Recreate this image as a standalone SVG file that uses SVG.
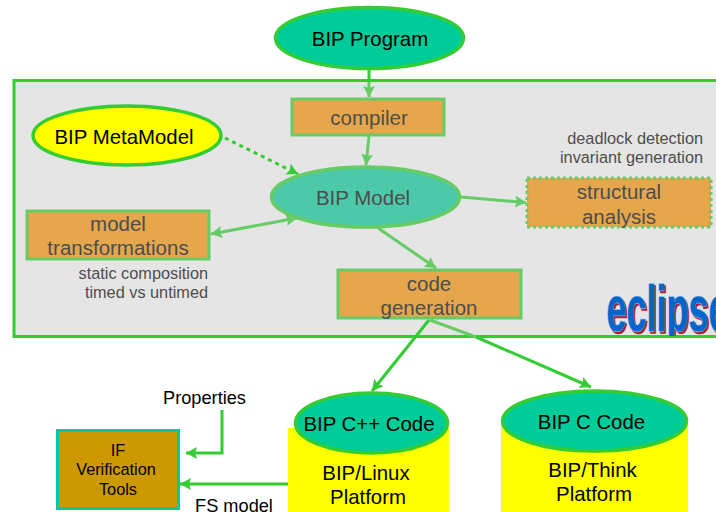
<svg xmlns="http://www.w3.org/2000/svg" width="716" height="512" viewBox="0 0 716 512">
<style>
text{font-family:"Liberation Sans",Arial,sans-serif;text-anchor:middle;fill:#000}
.l{font-size:20.400px}
.g{font-size:20.500px;fill:#4d4d4d}
.n{font-size:16.300px;fill:#4d4d4d;text-anchor:end}
.k{font-size:16.300px}
.b{font-size:18.200px}
.p{fill:#e6a64c;stroke:#66cc66;stroke-width:3}
.e1{fill:#00cc99;stroke:#33cc33;stroke-width:3.500}
.c1{fill:none;stroke:#33cc33;stroke-width:3}
.c2{fill:none;stroke:#66cc66;stroke-width:3}
.lg{font-weight:bold;font-size:64px;text-anchor:start}
</style>
<defs>
<marker id="a1" markerUnits="userSpaceOnUse" markerWidth="14" markerHeight="14" refX="11" refY="6" orient="auto"><path d="M0 0L11 6L0 12L2 6Z" fill="#33cc33"/></marker>
<marker id="a2" markerUnits="userSpaceOnUse" markerWidth="14" markerHeight="14" refX="11" refY="6" orient="auto"><path d="M0 0L11 6L0 12L2 6Z" fill="#66cc66"/></marker>
<marker id="a2s" markerUnits="userSpaceOnUse" markerWidth="14" markerHeight="14" refX="0" refY="6" orient="auto"><path d="M11 0L0 6L11 12L9 6Z" fill="#66cc66"/></marker>
<clipPath id="lc"><rect x="600" y="280" width="116" height="56"/></clipPath>
</defs>
<g id="frame"><rect x="14" y="80.500" width="720" height="256" fill="#e5e5e5" stroke="#33cc33" stroke-width="3"/></g>
<g id="eclipse-logo" clip-path="url(#lc)">
<text class="lg" x="608" y="333" textLength="122" lengthAdjust="spacingAndGlyphs" style="fill:#b01c2e;stroke:#b01c2e;stroke-width:1.500">eclipse</text>
<text class="lg" x="606.500" y="331" textLength="122" lengthAdjust="spacingAndGlyphs" style="fill:#0066cc;stroke:#80b8f0;stroke-width:1.500;paint-order:stroke">eclipse</text>
</g>
<g id="connectors">
<path class="c1" d="M369 69V82"/>
<path class="c2" d="M369 82V97" marker-end="url(#a2)"/>
<path class="c2" d="M369 136L366 165" marker-end="url(#a2)"/>
<path class="c1" d="M225 138L298 174" stroke-dasharray="4 4" marker-end="url(#a1)"/>
<path class="c2" d="M211 234L297 218" marker-start="url(#a2s)" marker-end="url(#a2)"/>
<path class="c2" d="M461 197L526 202.500" marker-end="url(#a2)"/>
<path class="c2" d="M378 228L436 268" marker-end="url(#a2)"/>
<path class="c1" d="M429 320L372 391" marker-end="url(#a1)"/>
<path class="c2" d="M430 320L476 337"/>
<path class="c1" d="M476 337L591 387" marker-end="url(#a1)"/>
<path class="c1" d="M222 410V453H186" marker-end="url(#a1)"/>
<path class="c1" d="M289 484H180" marker-end="url(#a1)"/>
</g>
<g id="bip-program"><ellipse class="e1" cx="369.500" cy="38" rx="94" ry="30.500"/><text class="l" x="370" y="46">BIP Program</text></g>
<g id="compiler"><rect class="p" x="292" y="99" width="152" height="36"/><text class="g" x="369" y="125">compiler</text></g>
<g id="bip-metamodel"><ellipse cx="127" cy="135.500" rx="94" ry="29.500" fill="#ffff00" stroke="#33cc33" stroke-width="3.500"/><text class="l" x="124" y="144">BIP MetaModel</text></g>
<g id="bip-model"><ellipse cx="365.500" cy="197" rx="94" ry="30" fill="#4cc9a8" stroke="#66cc66" stroke-width="3.500"/><text class="g" x="363" y="205">BIP Model</text></g>
<g id="model-transformations"><rect class="p" x="27" y="211" width="182" height="48"/><text class="g" x="118" y="231">model</text><text class="g" x="118" y="255">transformations</text></g>
<g id="structural-analysis"><rect class="p" x="527" y="178" width="184" height="49" stroke-dasharray="3 3"/><text class="g" x="619" y="199">structural</text><text class="g" x="619" y="224">analysis</text></g>
<g id="code-generation"><rect class="p" x="338" y="270" width="183" height="48"/><text class="g" x="429" y="291">code</text><text class="g" x="429" y="315">generation</text></g>
<g id="notes">
<text class="n" x="703" y="144">deadlock detection</text>
<text class="n" x="703" y="163">invariant generation</text>
<text class="n" x="208" y="279">static composition</text>
<text class="n" x="208" y="298">timed vs untimed</text>
</g>
<g id="bip-linux"><rect x="288" y="428" width="161" height="84" fill="#ffff00"/><ellipse class="e1" cx="371.500" cy="423" rx="76" ry="30"/><text class="l" x="369" y="431">BIP C++ Code</text><text class="l" x="366" y="480">BIP/Linux</text><text class="l" x="368" y="504">Platform</text></g>
<g id="bip-think"><rect x="501" y="421" width="187" height="91" fill="#ffff00"/><ellipse class="e1" cx="594.500" cy="421" rx="92" ry="30"/><text class="l" x="591.500" y="429">BIP C Code</text><text class="l" x="592.500" y="477">BIP/Think</text><text class="l" x="594" y="501">Platform</text></g>
<g id="if-tools"><rect x="57.500" y="430.500" width="121" height="78" fill="#cc9900" stroke="#00cc99" stroke-width="3"/><text class="k" x="118" y="456">IF</text><text class="k" x="116" y="475">Verification</text><text class="k" x="118" y="495">Tools</text></g>
<g id="labels"><text class="b" x="204.500" y="404">Properties</text><text class="b" x="234" y="512">FS model</text></g>
</svg>
